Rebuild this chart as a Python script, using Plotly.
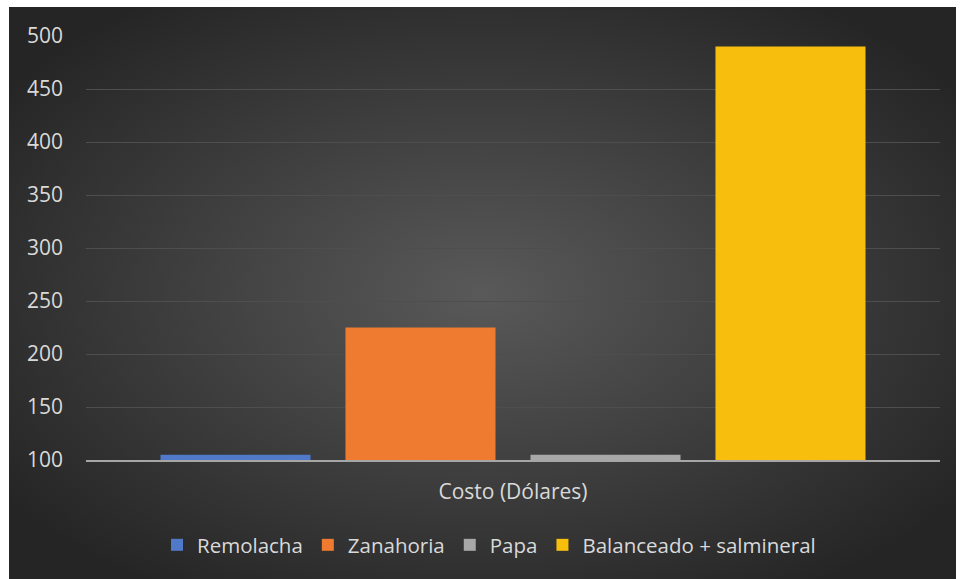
import base64
import plotly.graph_objects as go

categories = ["Costo (Dólares)"]
series_names = ["Remolacha", "Zanahoria", "Papa", "Balanceado + salmineral"]
series_values = [105, 225, 105, 490]
series_colors = ["#5079C9", "#EE7B30", "#A8A8A8", "#F7BE0E"]
y_ticks = [100, 150, 200, 250, 300, 350, 400, 450, 500]

W, H = 960, 579
ml, mr, mt, mb = 86, 20, 36, 119
pw, ph = W - ml - mr, H - mt - mb

svg = """<svg xmlns='http://www.w3.org/2000/svg' width='947' height='572' viewBox='0 0 947 572' preserveAspectRatio='none'>
<defs><radialGradient id='g' cx='50%' cy='50%' r='62%'>
<stop offset='0%' stop-color='#595959'/><stop offset='100%' stop-color='#252525'/>
</radialGradient></defs><rect width='947' height='572' fill='url(#g)'/></svg>"""
src = "data:image/svg+xml;base64," + base64.b64encode(svg.encode()).decode()

def px_x(p):
    return (p - ml) / pw

def px_y(p):
    return (H - mb - p) / ph

fig = go.Figure()
for name, val, col in zip(series_names, series_values, series_colors):
    fig.add_trace(go.Bar(name=name, x=categories, y=[val], marker=dict(color=col, line=dict(width=0))))

fig.add_layout_image(dict(source=src, xref="paper", yref="paper",
                          x=px_x(9), y=px_y(7), sizex=px_x(956) - px_x(9),
                          sizey=px_y(7) - px_y(579), sizing="stretch",
                          xanchor="left", yanchor="top", layer="below"))

fam = "'Open Sans', 'Noto Sans', sans-serif"
font = dict(family=fam, size=21, color="#D9D9D9")
fig.update_layout(
    width=W, height=H,
    margin=dict(l=ml, r=mr, t=mt, b=mb),
    paper_bgcolor="#FFFFFF", plot_bgcolor="rgba(0,0,0,0)",
    barmode="group", bargap=0.1335, bargroupgap=0.189,
    font=font,
    showlegend=True,
    legend=dict(orientation="h", x=px_x(489), xanchor="center", y=px_y(545), yanchor="middle",
                font=dict(family=fam, size=20.5, color="#D9D9D9"),
                itemwidth=30, bgcolor="rgba(0,0,0,0)", traceorder="normal"),
    xaxis=dict(showline=True, linecolor="#A6A6A6", linewidth=2, showgrid=False,
               ticks="", ticklabelstandoff=12, tickfont=font),
    yaxis=dict(range=[100, 500], tickvals=y_ticks, showgrid=True, gridcolor="#4E4E4E",
               gridwidth=1, zeroline=False, showline=False, ticks="",
               ticklabelstandoff=22, tickfont=font),
)

fig.write_html("out.html")
